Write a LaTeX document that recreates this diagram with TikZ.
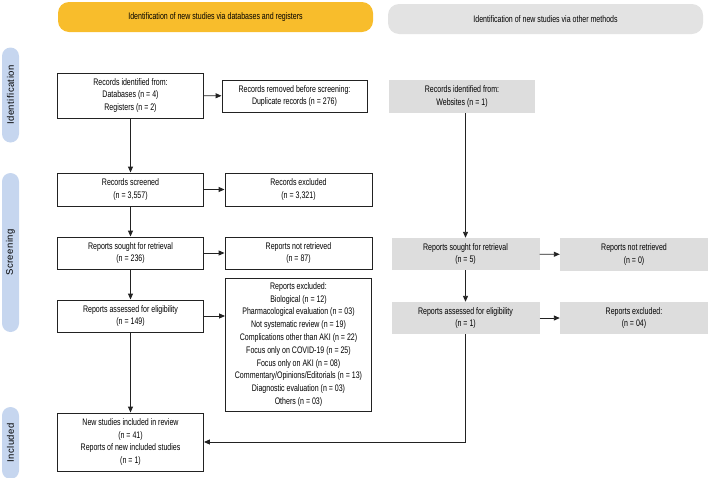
\documentclass[tikz,border=0pt]{standalone}
\usepackage{fontspec}
\setmainfont{Liberation Sans}[FakeStretch=0.74]
\newfontfamily\sidefont{Liberation Sans}[LetterSpace=5]
\usetikzlibrary{arrows.meta}
\definecolor{bandyellow}{HTML}{F8BD2C}
\definecolor{bandgray}{HTML}{E3E3E3}
\definecolor{boxgray}{HTML}{DDDDDD}
\definecolor{sideblue}{HTML}{C6D6EF}
\definecolor{linecol}{HTML}{222222}
\begin{document}
\begin{tikzpicture}[x=1pt,y=-1pt,
  txt/.style={font=\fontsize{9.5}{12.6}\selectfont, align=center, inner sep=0pt},
  wbox/.style={txt, draw=linecol, line width=0.9pt, fill=white, rectangle},
  gbox/.style={txt, fill=boxgray, rectangle},
  band/.style={txt, rectangle, rounded corners=11pt, minimum width=315pt, minimum height=30pt},
  sidebar/.style={rectangle, rounded corners=8.5pt, fill=sideblue, minimum height=17pt, inner sep=0pt, rotate=90, font=\sidefont\fontsize{9.5}{11}\selectfont},
  arr/.style={draw=linecol, line width=0.9pt, -{Triangle[length=6pt,width=5pt]}},
  ln/.style={draw=linecol, line width=0.9pt}
]
\useasboundingbox (0,0) rectangle (708,477);
% bands
\node[band, fill=bandyellow] (b1) at (215.5,17) {Identification of new studies via databases and registers};
\node[band, fill=bandgray] (b2) at (545.5,19) {Identification of new studies via other methods};
% side bars
\node[sidebar, minimum width=95pt] (s1) at (10.5,95) {Identification};
\node[sidebar, minimum width=159pt] (s2) at (10.5,252.5) {Screening};
\node[sidebar, minimum width=72pt] (s3) at (10.5,443) {Included};
% left column
\node[wbox, minimum width=146pt, minimum height=45pt] (id) at (130.5,95.5) {Records identified from:\\Databases (n = 4)\\Registers (n = 2)};
\node[wbox, minimum width=145pt, minimum height=32pt] (rem) at (294.5,96) {Records removed before screening:\\Duplicate records (n = 276)};
\node[wbox, minimum width=146pt, minimum height=33pt] (scr) at (130.5,189.5) {Records screened\\(n = 3,557)};
\node[wbox, minimum width=147pt, minimum height=33pt] (exc) at (298.5,189.5) {Records excluded\\(n = 3,321)};
\node[wbox, minimum width=146pt, minimum height=32pt] (sou) at (130.5,253) {Reports sought for retrieval\\(n = 236)};
\node[wbox, minimum width=147pt, minimum height=32pt] (nr) at (298.5,253) {Reports not retrieved\\(n = 87)};
\node[wbox, minimum width=146pt, minimum height=32pt] (ass) at (130.5,316) {Reports assessed for eligibility\\(n = 149)};
\node[wbox, minimum width=146pt, minimum height=133pt, font=\fontsize{9.5}{12.8}\selectfont] (rex) at (298.5,344.5) {Reports excluded:\\Biological (n = 12)\\Pharmacological evaluation (n = 03)\\Not systematic review (n = 19)\\Complications other than AKI (n = 22)\\Focus only on COVID-19 (n = 25)\\Focus only on AKI (n = 08)\\Commentary/Opinions/Editorials (n = 13)\\Diagnostic evaluation (n = 03)\\Others (n = 03)};
\node[wbox, minimum width=146pt, minimum height=58pt] (new) at (130.5,442) {New studies included in review\\(n = 41)\\Reports of new included studies\\(n = 1)};
% right column
\node[gbox, minimum width=146pt, minimum height=33pt] (web) at (462,96.5) {Records identified from:\\Websites (n = 1)};
\node[gbox, minimum width=148pt, minimum height=32pt] (gs) at (465.5,254) {Reports sought for retrieval\\(n = 5)};
\node[gbox, minimum width=148pt, minimum height=33pt] (gnr) at (634,254.5) {Reports not retrieved\\(n = 0)};
\node[gbox, minimum width=148pt, minimum height=32pt] (ga) at (465.5,318) {Reports assessed for eligibility\\(n = 1)};
\node[gbox, minimum width=148pt, minimum height=32pt] (gex) at (634,318) {Reports excluded:\\(n = 04)};
% connectors
\draw[arr] (id) -- (rem);
\draw[arr] (id) -- (scr);
\draw[arr] (scr) -- (exc);
\draw[arr] (scr) -- (sou);
\draw[arr] (sou) -- (nr);
\draw[arr] (sou) -- (ass);
\draw[arr] (ass.east) -- (ass.east -| rex.west);
\draw[arr] (ass) -- (new);
\draw[arr] (web.south -| gs.north) -- (gs.north);
\draw[arr] (gs) -- (gnr);
\draw[arr] (gs) -- (ga);
\draw[arr] (ga) -- (gex);
\draw[arr] (ga.south) |- (new.east);
\end{tikzpicture}
\end{document}
